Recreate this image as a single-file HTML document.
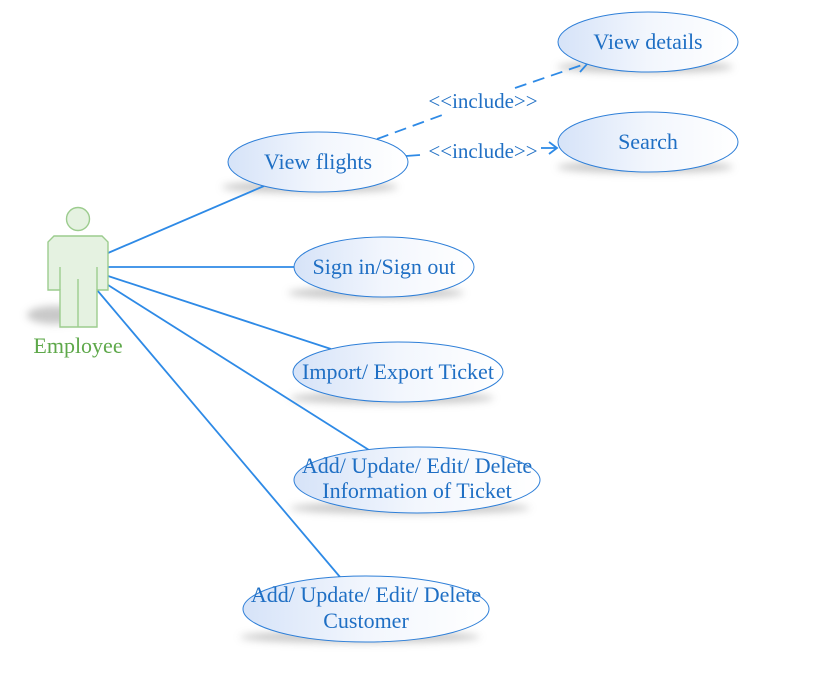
<!DOCTYPE html>
<html><head><style>body{margin:0;background:#fff}</style></head><body>
<svg width="814" height="669" xmlns="http://www.w3.org/2000/svg" font-family="Liberation Serif, serif">
<defs>
<linearGradient id="g" x1="0" x2="1"><stop offset="0" stop-color="#d6e3f8"/><stop offset="0.5" stop-color="#f2f6fd"/><stop offset="1" stop-color="#ffffff"/></linearGradient>
<filter id="b"><feGaussianBlur stdDeviation="4"/></filter>
</defs>
<g fill="#bbb" filter="url(#b)" opacity="0.8">
<ellipse cx="645" cy="67" rx="88" ry="6"/>
<ellipse cx="645" cy="167" rx="88" ry="6"/>
<ellipse cx="310" cy="187" rx="88" ry="6"/>
<ellipse cx="376" cy="293" rx="88" ry="6"/>
<ellipse cx="392" cy="398" rx="102" ry="6"/>
<ellipse cx="410" cy="508" rx="120" ry="6"/>
<ellipse cx="360" cy="637" rx="120" ry="6"/>
<ellipse cx="55" cy="315" rx="28" ry="9"/>
</g>
<g stroke="#2e8ae6" stroke-width="1.8" fill="none">
<line x1="108" y1="253" x2="264" y2="186"/>
<line x1="108" y1="267" x2="294" y2="267"/>
<line x1="108" y1="276" x2="331" y2="349"/>
<line x1="108" y1="285" x2="369" y2="450"/>
<line x1="97" y1="290" x2="340" y2="577"/>
<line x1="377" y1="139" x2="445" y2="114" stroke-dasharray="12,7"/>
<line x1="515" y1="88" x2="588" y2="63" stroke-dasharray="12,7"/>
<polyline points="576,58 588,63 580,72"/>
<line x1="406" y1="156" x2="420" y2="155"/>
<line x1="541" y1="148" x2="557" y2="148"/>
<polyline points="549,142 557,148 549,154"/>
</g>
<g stroke="#2e7fd8" stroke-width="1" fill="url(#g)">
<ellipse cx="648" cy="42" rx="90" ry="30"/>
<ellipse cx="648" cy="142" rx="90" ry="30"/>
<ellipse cx="318" cy="162" rx="90" ry="30"/>
<ellipse cx="384" cy="267" rx="90" ry="30"/>
<ellipse cx="398" cy="372" rx="105" ry="30"/>
<ellipse cx="417" cy="480" rx="123" ry="33"/>
<ellipse cx="366" cy="609" rx="123" ry="33"/>
</g>
<g fill="#e5f2e1" stroke="#9ccc8e" stroke-width="1.4">
<circle cx="78" cy="219" r="11.5"/>
<polygon points="54,236 102,236 108,242 108,290 97,290 97,327 60,327 60,290 48,290 48,242"/>
<line x1="60" y1="267" x2="60" y2="290"/>
<line x1="97" y1="267" x2="97" y2="290"/>
<line x1="78" y1="279" x2="78" y2="327"/>
</g>
<text x="78" y="353" fill="#5ea84a" font-size="22" text-anchor="middle">Employee</text>
<g fill="#1f6fc4" font-size="22" text-anchor="middle">
<text x="648" y="49">View details</text>
<text x="648" y="149">Search</text>
<text x="318" y="169">View flights</text>
<text x="384" y="274">Sign in/Sign out</text>
<text x="398" y="379">Import/ Export Ticket</text>
<text x="417" y="473">Add/ Update/ Edit/ Delete</text>
<text x="417" y="498">Information of Ticket</text>
<text x="366" y="602">Add/ Update/ Edit/ Delete</text>
<text x="366" y="628">Customer</text>
<text x="483" y="108" font-size="21">&lt;&lt;include&gt;&gt;</text>
<text x="483" y="158" font-size="21">&lt;&lt;include&gt;&gt;</text>
</g>
</svg>
</body></html>
